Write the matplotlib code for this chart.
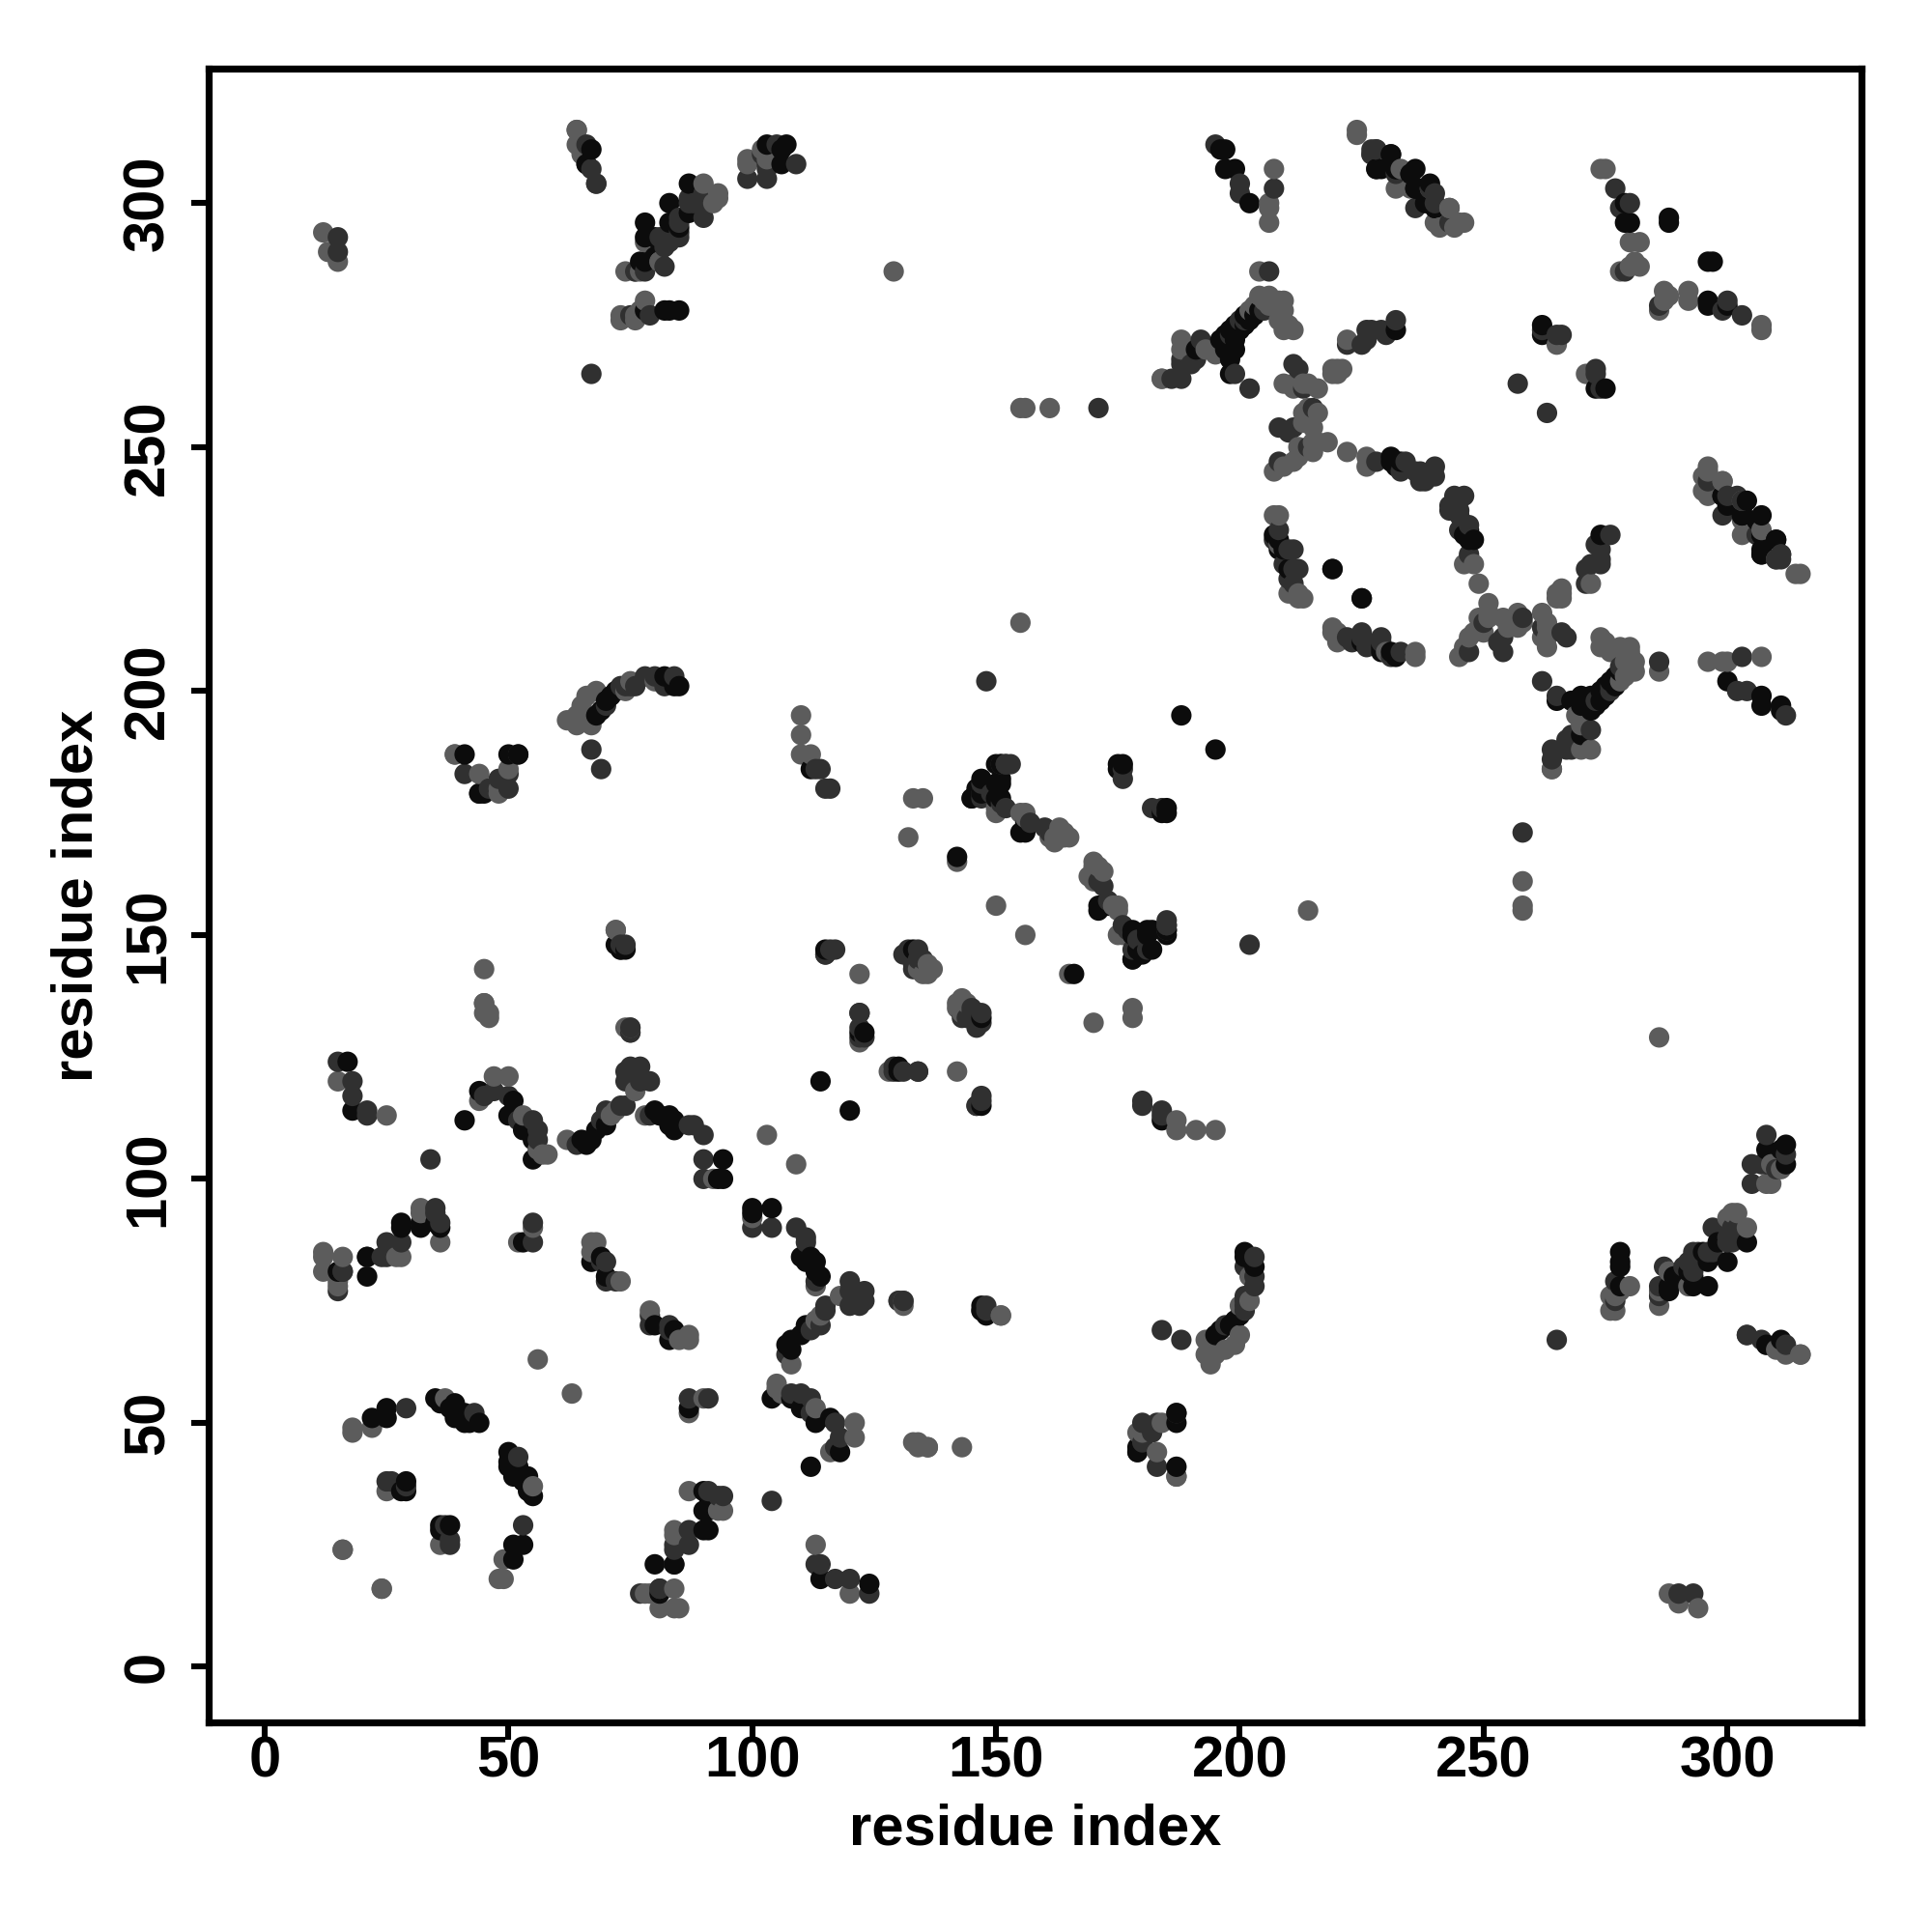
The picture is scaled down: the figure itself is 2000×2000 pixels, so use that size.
import matplotlib
matplotlib.use("Agg")
import matplotlib.pyplot as plt

# contacts (i, j) with i < j, the map is symmetric so each is drawn both ways
light_contacts = [
    (12, 85), (12, 84), (12, 81), (15, 79), (16, 84), (27, 84), (32, 94), (36, 87), (15, 120), (25, 113),
    (47, 121), (50, 121), (53, 113), (57, 105), (58, 105), (56, 106), (44, 116), (62, 108), (71, 113), (72, 114),
    (76, 118), (72, 151), (45, 143), (45, 136), (45, 134), (46, 134), (74, 131), (75, 130), (78, 113), (92, 100),
    (103, 109), (18, 48), (18, 49), (22, 49), (37, 55), (25, 36), (16, 24), (24, 16), (56, 63), (52, 87), (55, 90),
    (67, 87), (67, 85), (73, 79), (68, 87), (28, 84), (32, 93), (15, 78), (64, 315), (64, 312), (12, 294),
    (13, 290), (15, 288), (73, 277), (76, 277), (77, 278), (78, 280), (74, 286), (76, 286), (77, 286), (78, 292),
    (81, 288), (90, 304), (93, 301), (99, 308), (102, 311), (129, 286), (207, 307), (206, 300), (206, 299),
    (206, 296), (224, 315), (227, 310), (233, 307), (235, 303), (232, 303), (243, 299), (241, 295), (244, 295),
    (246, 296), (275, 307), (280, 292), (282, 292), (278, 286), (280, 287), (281, 288), (282, 287), (274, 307),
    (265, 271), (184, 264), (188, 270), (193, 270), (195, 269), (206, 279), (207, 280), (208, 280), (209, 280),
    (209, 278), (208, 276), (210, 275), (211, 274), (209, 274), (204, 286), (211, 262), (214, 263), (216, 262),
    (219, 266), (220, 266), (221, 266), (216, 257), (215, 254), (207, 245), (209, 246), (211, 247), (212, 248),
    (215, 249), (216, 251), (218, 251), (212, 250), (222, 272), (207, 236), (208, 230), (213, 219), (212, 219),
    (212, 220), (210, 220), (222, 249), (226, 246), (226, 248), (208, 236), (213, 255), (213, 257), (214, 258),
    (215, 251), (213, 263), (211, 263), (209, 263), (219, 265), (220, 265), (205, 280), (206, 281), (204, 281),
    (202, 278), (184, 264), (188, 272), (195, 270), (203, 279), (110, 195), (110, 191), (112, 187), (110, 187),
    (155, 258), (156, 258), (161, 258), (155, 214), (122, 142), (122, 128), (136, 144), (137, 143), (136, 142),
    (142, 165), (134, 143), (135, 142), (132, 170), (135, 178), (133, 178), (150, 175),
    (155, 175), (156, 174), (150, 156), (161, 170), (162, 170), (162, 169), (164, 170), (165, 170), (164, 171),
    (163, 172), (156, 175), (151, 176), (150, 176), (39, 187), (44, 183), (48, 180), (50, 184), (64, 194),
    (67, 193), (74, 200), (75, 202), (80, 202), (46, 133), (45, 136), (75, 131), (72, 151), (39, 187), (48, 179),
    (62, 194), (64, 195), (65, 197), (66, 199), (68, 200), (64, 193),
    (76, 276), (73, 276), (81, 288), (92, 300), (93, 302), (103, 309), (99, 309), (65, 310), (64, 315),
    (239, 303), (240, 296), (245, 296), (243, 299), (224, 314),
]
mid_contacts = [
    (15, 77), (16, 81), (21, 84), (24, 84), (25, 87), (28, 87), (35, 94), (36, 91), (15, 124), (18, 120),
    (18, 117), (21, 113), (21, 114), (45, 117), (47, 118), (50, 117), (52, 112), (55, 112), (56, 110), (56, 108),
    (64, 107), (69, 112), (70, 114), (73, 115), (74, 115), (74, 120), (75, 123), (74, 122), (77, 123), (77, 120),
    (79, 120), (73, 148), (74, 148), (75, 131), (79, 113), (87, 111), (88, 111), (90, 109), (90, 104), (90, 100),
    (29, 53), (43, 52), (25, 38), (26, 38), (29, 37), (55, 91), (69, 83), (70, 79), (70, 83), (72, 79), (25, 84),
    (35, 93), (16, 81), (34, 104), (55, 87), (66, 312), (67, 307), (68, 304), (67, 265), (15, 293), (15, 290),
    (79, 277), (83, 292), (83, 294), (85, 297), (85, 293), (87, 301), (90, 297), (90, 301), (88, 300), (99, 305),
    (103, 305), (103, 308), (105, 312), (109, 308), (195, 312), (200, 304), (200, 302), (207, 303), (227, 311),
    (228, 311), (232, 306), (240, 302), (240, 300), (243, 296), (277, 303), (280, 300), (278, 299), (279, 286),
    (257, 263), (262, 274), (265, 273), (266, 273), (186, 264), (188, 264), (188, 268), (190, 267), (191, 268),
    (198, 273), (201, 276), (205, 278), (206, 286), (202, 262), (199, 265), (213, 262), (212, 266), (215, 258),
    (208, 254), (210, 253), (211, 254), (208, 247), (214, 250), (228, 247), (234, 247), (236, 245), (237, 245),
    (240, 244), (238, 243), (240, 246), (222, 271), (225, 271), (226, 272), (227, 274), (229, 274), (230, 273),
    (232, 276), (226, 274), (207, 231), (211, 229), (211, 225), (212, 225), (211, 222), (219, 225), (210, 223),
    (209, 226), (210, 229), (208, 233), (233, 245), (237, 243), (211, 267), (200, 276), (188, 267), (192, 272),
    (113, 184), (115, 180), (116, 180), (114, 184), (171, 258), (148, 202), (116, 147), (117, 147), (115, 146),
    (122, 134), (123, 129), (129, 122),
    (122, 131), (122, 134), (131, 146), (132, 146), (134, 147), (133, 144), (135, 145), (133, 143), (146, 115),
    (134, 145), (133, 146), (132, 147), (145, 178), (147, 178), (147, 181), (150, 178), (152, 176), (152, 185),
    (153, 185), (161, 171), (160, 172), (157, 173), (151, 177), (149, 179), (147, 179), (151, 185), (152, 185),
    (176, 182), (176, 184), (41, 183), (50, 180), (50, 183), (52, 187), (70, 197), (73, 201), (76, 201), (78, 203),
    (80, 203), (84, 203), (82, 201), (67, 188), (69, 184), (73, 147), (75, 130), (44, 179), (46, 180), (48, 182),
    (68, 304), (66, 308), (78, 286), (82, 287), (82, 291), (85, 294), (85, 296), (87, 300), (90, 302), (81, 293),
    (75, 277), (76, 286), (103, 307), (102, 310), (74, 201), (75, 201), (236, 299), (239, 303), (228, 311), (227, 310),
]
dark_contacts = [
    (21, 80), (28, 91), (32, 91), (35, 91), (15, 81), (17, 124), (18, 114), (44, 118), (51, 116), (50, 113),
    (53, 110), (55, 108), (55, 104), (65, 108), (67, 108), (66, 107), (68, 110), (70, 111), (73, 147), (94, 104),
    (93, 100), (94, 100), (22, 51), (25, 51), (25, 53), (35, 55), (36, 54), (38, 53), (39, 54), (39, 51),
    (41, 52), (41, 50), (42, 50), (44, 50), (28, 36), (29, 36), (29, 38), (53, 87), (67, 83), (69, 84), (70, 80),
    (21, 84), (28, 90), (32, 90), (36, 90), (41, 112), (84, 112), (84, 110), (83, 111), (83, 113), (81, 113),
    (80, 114), (67, 311), (66, 308), (77, 288), (78, 293), (78, 296), (80, 293), (82, 278), (83, 278), (78, 278),
    (83, 296), (83, 300), (85, 295), (87, 298), (87, 304), (103, 312), (106, 308), (106, 311), (107, 312),
    (196, 311), (197, 311), (197, 307), (199, 307), (202, 300), (231, 310), (229, 307), (236, 307), (237, 303),
    (239, 304), (238, 300), (279, 300), (279, 296), (280, 296), (288, 296), (297, 288), (262, 275), (262, 273),
    (197, 270), (199, 270), (199, 272), (200, 274), (201, 275), (202, 276), (203, 277), (204, 278), (198, 265),
    (198, 268), (232, 274), (207, 232), (209, 229), (208, 229), (208, 231), (225, 219), (210, 225), (231, 247),
    (233, 247), (231, 248), (232, 246), (191, 270), (196, 272), (197, 273), (198, 274), (199, 275), (201, 277),
    (188, 195), (114, 120), (115, 147), (122, 130), (123, 130), (133, 147), (142, 166), (146, 180), (150, 181),
    (151, 181), (151, 178), (151, 185), (155, 171), (156, 171), (156, 173), (150, 178), (145, 178), (147, 179),
    (147, 182), (151, 182), (150, 185), (175, 185), (176, 185), (175, 184), (41, 187), (44, 179), (45, 179),
    (68, 195), (69, 196), (70, 198), (71, 199), (72, 200), (82, 203), (84, 201), (85, 201), (52, 187), (50, 187),
    (72, 148), (74, 147), (85, 278), (78, 288), (80, 289), (81, 292), (112, 184),
    (228, 307), (232, 307), (235, 306), (236, 303), (240, 299), (240, 299), (236, 303), (235, 306),
    (232, 307), (231, 310), (228, 307),
]

grays = {"light": "#5c5c5c", "mid": "#303030", "dark": "#0c0c0c"}

rows = []
for name, contacts in [("light", light_contacts), ("mid", mid_contacts), ("dark", dark_contacts)]:
    for a, b in contacts:
        rows.append((a, b, grays[name]))
        rows.append((b, a, grays[name]))
# draw in row order so light and dark points interleave like in the map
rows.sort(key=lambda r: (r[0], r[1]))

fig = plt.figure(figsize=(10, 10), dpi=200)
ax = fig.add_axes([0.108, 0.1085, 0.8555, 0.8558])

ax.scatter([r[0] for r in rows], [r[1] for r in rows], s=58, c=[r[2] for r in rows], linewidths=0, zorder=2)

ax.set_xlim(-11.5, 327.5)
ax.set_ylim(-11.4, 327.5)
ax.set_xticks([0, 50, 100, 150, 200, 250, 300])
ax.set_yticks([0, 50, 100, 150, 200, 250, 300])
for s in ax.spines.values():
    s.set_linewidth(2.6)

font = {"family": ["Liberation Sans"], "fontweight": "bold", "fontsize": 21.5}
ax.tick_params(length=6.5, width=2.2)
ax.tick_params(axis="x", pad=-1.5)
ax.tick_params(axis="y", pad=6)
for lab in ax.get_xticklabels():
    lab.set(**font)
for lab in ax.get_yticklabels():
    lab.set(rotation=90, va="center", **font)
ax.set_xlabel("residue index", **font)
ax.set_ylabel("residue index", **font)
ax.xaxis.set_label_coords(0.5, -0.0485)
ax.yaxis.set_label_coords(-0.0635, 0.5)

fig.savefig("out.png", dpi=200)
